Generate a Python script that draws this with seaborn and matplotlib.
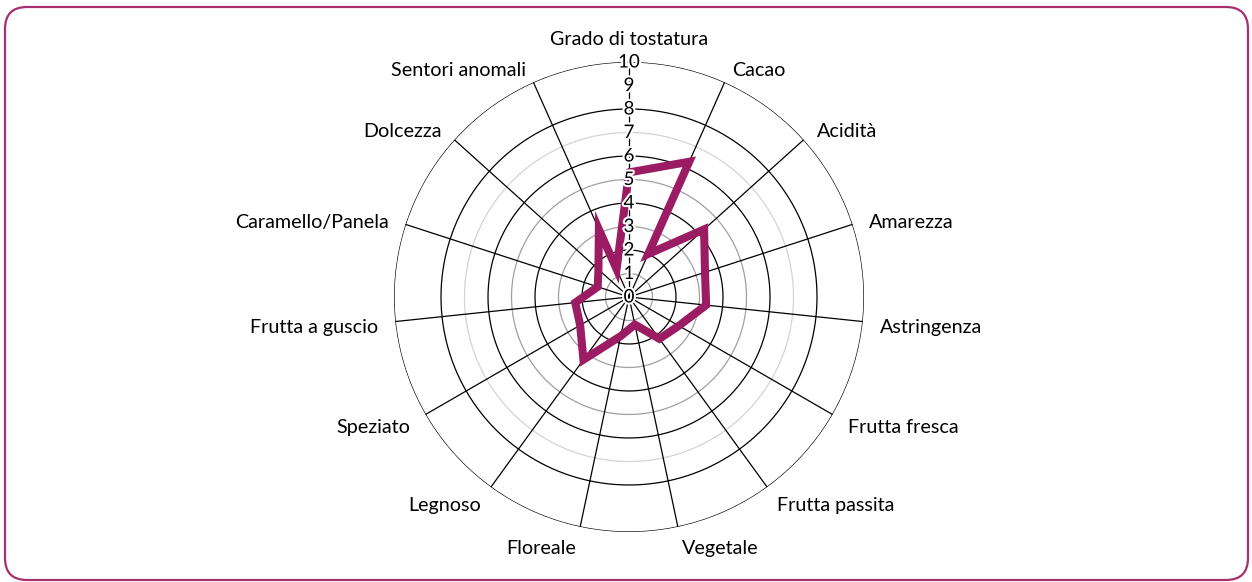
import numpy as np
import matplotlib
matplotlib.use("Agg")
import matplotlib.pyplot as plt
import matplotlib.patheffects as pe
import matplotlib.transforms as mtransforms
from matplotlib.patches import FancyBboxPatch
import seaborn as sns

# categories clockwise from the top
categories = ["Grado di tostatura", "Cacao", "Acidità", "Amarezza", "Astringenza",
              "Frutta fresca", "Frutta passita", "Vegetale", "Floreale", "Legnoso",
              "Speziato", "Frutta a guscio", "Caramello/Panela", "Dolcezza",
              "Sentori anomali"]

# the profile line, in drawing order (two spokes are visited twice)
path_labels = ["Grado di tostatura", "Cacao", "Cacao", "Acidità", "Amarezza",
               "Astringenza", "Frutta fresca", "Frutta passita", "Vegetale",
               "Floreale", "Legnoso", "Speziato", "Frutta a guscio",
               "Caramello/Panela", "Dolcezza", "Sentori anomali",
               "Sentori anomali", "Grado di tostatura"]
path_values = [5.3, 6.3, 2.0, 4.3, 3.4, 3.3, 2.45, 2.2, 1.2, 1.7, 3.3, 2.4,
               2.3, 1.4, 1.75, 3.15, 1.3, 5.3]

tick_values = list(range(0, 11))

LINE_COLOR = "#9c1c63"
FRAME_COLOR = "#a8306e"


def setup_style():
    sns.set_theme(style="white")
    plt.rcParams["font.family"] = ["Lato", "DejaVu Sans"]


def main():
    setup_style()
    n = len(categories)
    angles = [2 * np.pi * i / n for i in range(n)]

    fig = plt.figure(figsize=(12.52, 5.82), dpi=100)
    fig.patch.set_facecolor("white")

    # rounded frame around the whole card
    frame = FancyBboxPatch((0.05, 0.02), 12.43, 5.73,
                           boxstyle="round,pad=0,rounding_size=0.22",
                           transform=fig.dpi_scale_trans,
                           facecolor="none", edgecolor=FRAME_COLOR, linewidth=1.6)
    fig.patches.append(frame)

    ax = fig.add_axes([0.3147, 0.0859, 0.3754, 0.8076], polar=True)
    ax.set_theta_zero_location("N")
    ax.set_theta_direction(-1)
    ax.set_ylim(0, 10)
    ax.grid(False)
    ax.set_xticks([])
    ax.set_yticks([])
    ax.spines["polar"].set_visible(False)
    ax.set_facecolor("none")

    # rings: even values black, odd values grey, no ring at 9
    ring_t = np.linspace(0, 2 * np.pi, 721)
    for k in range(1, 11):
        if k == 9:
            continue
        if k % 2 == 0:
            color, lw = "black", 0.9
        elif k == 7:
            color, lw = "#d4d4d4", 0.9
        else:
            color, lw = "#a0a0a0", 0.9
        ax.plot(ring_t, np.full_like(ring_t, k), color=color, lw=lw, zorder=1)

    # spokes
    for a in angles:
        ax.plot([a, a], [0, 10], color="black", lw=0.9, zorder=1)

    # profile line
    theta = np.array([angles[categories.index(lbl)] for lbl in path_labels])
    theta[-1] += 2 * np.pi
    sns.lineplot(x=theta, y=path_values, sort=False, estimator=None, ax=ax,
                 color=LINE_COLOR, linewidth=5.8, zorder=3)
    ax.lines[-1].set_solid_joinstyle("miter")
    ax.set_xlabel("")
    ax.set_ylabel("")

    # radial tick labels on the top spoke
    for v in tick_values:
        ax.text(0, v, str(v), ha="center", va="center", fontsize=13.5,
                color="black", zorder=4,
                path_effects=[pe.withStroke(linewidth=3, foreground="white")])

    # category labels around the outside, side ones nudged a little down
    side_tr = mtransforms.offset_copy(ax.transData, fig=fig, x=0, y=-4, units="dots")
    for lbl, a in zip(categories, angles):
        s = np.sin(a)
        if abs(s) < 0.05:
            ax.text(a, 10.95, lbl, ha="center", va="center", fontsize=14.2,
                    color="black")
            continue
        ha = "left" if s > 0 else "right"
        ax.text(a, 10.75, lbl, ha=ha, va="center", fontsize=14.2, color="black",
                transform=side_tr)

    fig.savefig("out.png", dpi=100, facecolor="white")
    plt.close(fig)


if __name__ == "__main__":
    main()
